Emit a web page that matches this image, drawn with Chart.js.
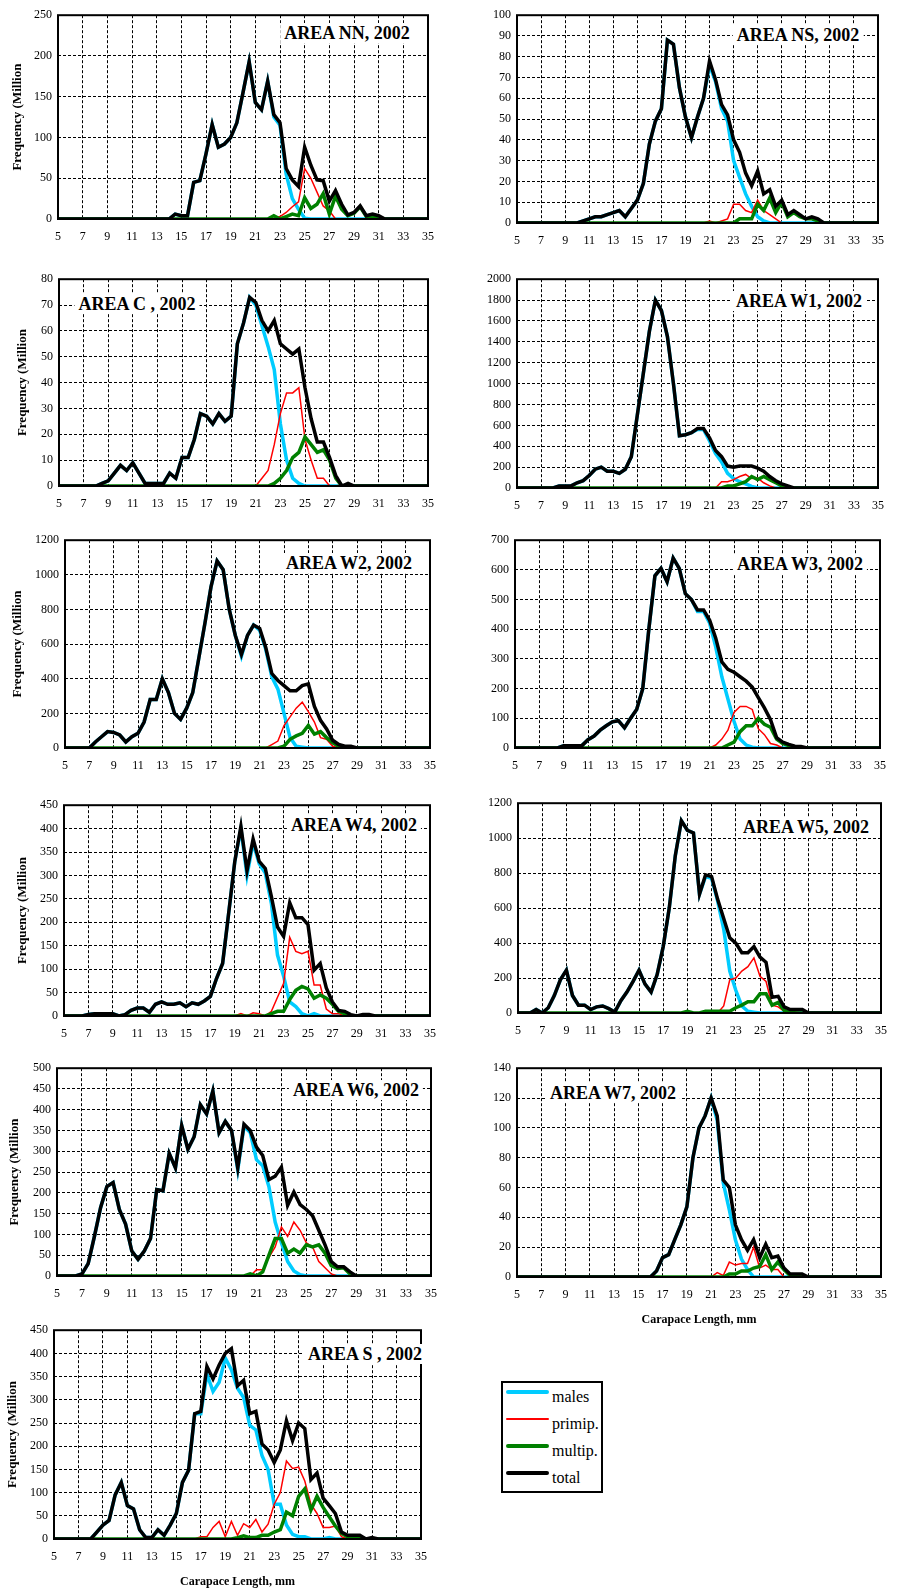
<!DOCTYPE html>
<html>
<head>
<meta charset="utf-8">
<title>Carapace length frequency by area, 2002</title>
<script src="https://cdn.jsdelivr.net/npm/chart.js@4.4.1/dist/chart.umd.min.js"></script>
<style>
html,body{margin:0;padding:0;background:#fff}
body{position:relative;width:897px;height:1592px;overflow:hidden;font-family:'Liberation Serif','Times New Roman',serif;color:#000}
canvas{position:absolute}
.area-title{position:absolute;transform:translate(-50%,-50%);background:#fff;font-weight:bold;font-size:18px;line-height:20px;padding:0 4px;white-space:nowrap}
#legend{position:absolute;left:501px;top:1381px;width:102px;height:112px;border:2px solid #000;box-sizing:border-box;background:#fff}
.lg-line{position:absolute;left:3px;width:43px}
.lg-text{position:absolute;left:49px;font-size:16px;line-height:18px;white-space:nowrap}
</style>
</head>
<body>
<script>
// ---------- DATA ----------
const lengths = [5,5.5,6,6.5,7,7.5,8,8.5,9,9.5,10,10.5,11,11.5,12,12.5,13,13.5,14,14.5,15,15.5,16,16.5,17,17.5,18,18.5,19,19.5,20,20.5,21,21.5,22,22.5,23,23.5,24,24.5,25,25.5,26,26.5,27,27.5,28,28.5,29,29.5,30,30.5,31,31.5,32,32.5,33,33.5,34,34.5,35];
const xTickLabels = [5,7,9,11,13,15,17,19,21,23,25,27,29,31,33,35];
const seriesNames = ['males','primip.','multip.','total'];
const areaTitles = ['AREA NN, 2002','AREA NS, 2002','AREA C , 2002','AREA W1, 2002','AREA W2, 2002','AREA W3, 2002','AREA W4, 2002','AREA W5, 2002','AREA W6, 2002','AREA W7, 2002','AREA S , 2002'];
const yMaxes = [250,100,80,2000,1200,700,450,1200,500,140,450];
const ySteps = [50,10,10,200,200,100,50,200,50,20,50];
const yAxisTitle = 'Frequency (Million';
const xAxisTitle = 'Carapace Length, mm';

// AREA NN
const nnMales = [0,0,0,0,0,0,0,0,0,0, 0,0,0,0,0,0,0,0,0,6, 4,4,45,47,80,116,88,92,100,118, 155,193,143,134,169,125,115,55,25,12, 1,0,0,0,0,0,0,0,0,0, 0,0,0,0,0,0,0,0,0,0,0];
const nnPrimip = [0,0,0,0,0,0,0,0,0,0, 0,0,0,0,0,0,0,0,0,0, 0,0,0,0,0,0,0,0,0,0, 0,0,0,0,0,0,3,8,15,21, 62,50,33,16,10,0,0,0,0,0, 0,2,1,0,0,0,0,0,0,0,0];
const nnMultip = [0,0,0,0,0,0,0,0,0,0, 0,0,0,0,0,0,0,0,0,0, 0,0,0,0,0,0,0,0,0,0, 0,0,0,0,0,4,0,3,6,4, 26,13,18,31,6,28,12,4,7,15, 3,3,2,0,0,0,0,0,0,0,0];
const nnTotal = [0,0,0,0,0,0,0,0,0,0, 0,0,0,0,0,0,0,0,0,6, 4,4,45,47,80,116,88,92,100,118, 155,193,143,134,169,128,118,62,48,40, 88,66,48,47,22,35,18,5,8,16, 4,6,4,0,0,0,0,0,0,0,0];

// AREA NS
const nsMales = [0,0,0,0,0,0,0,0,0,0, 0,1,2,3,3,4,5,6,3,7, 11,19,38,49,55,88,86,65,51,41, 51,60,76,68,55,49,30,22,14,8, 3,1,0,0,0,0,0,0,0,0, 0,0,0,0,0,0,0,0,0,0,0];
const nsPrimip = [0,0,0,0,0,0,0,0,0,0, 0,0,0,0,0,0,0,0,0,0, 0,0,0,0,0,0,0,0,0,0, 0,0,1,0,1,2,9,9,6,5, 11,6,4,2,0,0,0,0,0,0, 0,0,0,0,0,0,0,0,0,0,0];
const nsMultip = [0,0,0,0,0,0,0,0,0,0, 0,0,0,0,0,0,0,0,0,0, 0,0,0,0,0,0,0,0,0,0, 0,0,0,0,0,0,0,2,2,2, 9,6,12,5,10,3,5,3,2,2, 1,0,0,0,0,0,0,0,0,0,0];
const nsTotal = [0,0,0,0,0,0,0,0,0,0, 0,1,2,3,3,4,5,6,3,7, 11,19,38,49,55,88,86,65,51,41, 51,60,78,69,57,52,40,34,24,18, 25,14,16,8,11,4,6,4,2,3, 2,0,0,0,0,0,0,0,0,0,0];

// AREA C
const cMales = [0,0,0,0,0,0,0,1,2,5, 8,6,9,5,1,1,1,1,5,3, 11,11,18,28,27,24,28,25,27,55, 63,73,70,62,54,45,24,10,3,1, 0,0,0,0,0,0,0,0,0,0, 0,0,0,0,0,0,0,0,0,0,0];
const cPrimip = [0,0,0,0,0,0,0,0,0,0, 0,0,0,0,0,0,0,0,0,0, 0,0,0,0,0,0,0,0,0,0, 0,0,0,3,6,16,28,36,36,38, 18,10,3,3,0,0,0.5,0,0,0, 0,0,0,0,0,0,0,0,0,0,0];
const cMultip = [0,0,0,0,0,0,0,0,0,0, 0,0,0,0,0,0,0,0,0,0, 0,0,0,0,0,0,0,0,0,0, 0,0,0,0,0,1,3,6,11,13, 19,16,13,14,10,3,0,0,0,0, 0,0,0,0,0,0,0,0,0,0,0];
const cTotal = [0,0,0,0,0,0,0,1,2,5, 8,6,9,5,1,1,1,1,5,3, 11,11,18,28,27,24,28,25,27,55, 63,73,71,64,60,64,55,53,51,53, 38,26,17,17,11,4,0,1,0,0, 0,0,0,0,0,0,0,0,0,0,0];

// AREA W1
const w1Males = [0,0,0,0,0,0,0,20,20,20, 50,70,120,180,200,160,160,140,180,300, 700,1100,1500,1800,1700,1450,1000,500,510,530, 560,560,450,330,250,140,90,60,40,15, 0,0,0,0,0,0,0,0,0,0, 0,0,0,0,0,0,0,0,0,0,0];
const w1Primip = [0,0,0,0,0,0,0,0,0,0, 0,0,0,0,0,0,0,0,0,0, 0,0,0,0,0,0,0,0,0,0, 0,0,0,0,60,60,80,110,130,90, 95,50,20,0,0,0,0,0,0,0, 0,0,0,0,0,0,0,0,0,0,0];
const w1Multip = [0,0,0,0,0,0,0,0,0,0, 0,0,0,0,0,0,0,0,0,0, 0,0,0,0,0,0,0,0,0,0, 0,0,0,0,0,20,20,40,60,110, 80,110,80,50,20,0,0,0,0,0, 0,0,0,0,0,0,0,0,0,0,0];
const w1Total = [0,0,0,0,0,0,0,20,20,20, 50,70,120,180,200,160,160,140,180,300, 700,1100,1500,1800,1700,1450,1000,500,510,530, 570,570,480,360,300,210,200,210,210,210, 190,160,110,70,40,20,0,0,0,0, 0,0,0,0,0,0,0,0,0,0,0];

// AREA W2
const w2Males = [0,0,0,0,0,35,65,95,90,75, 35,65,85,150,280,280,400,320,200,165, 230,320,520,720,930,1080,1030,800,650,530, 650,710,680,570,410,340,200,60,10,5, 0,0,0,0,0,0,0,0,0,0, 0,0,0,0,0,0,0,0,0,0,0];
const w2Primip = [0,0,0,0,0,0,0,0,0,0, 0,0,0,0,0,0,0,0,0,0, 0,0,0,0,0,0,0,0,0,0, 0,0,0,0,20,40,130,180,230,265, 210,150,60,50,10,0,0,0,0,0, 0,0,0,0,0,0,0,0,0,0,0];
const w2Multip = [0,0,0,0,0,0,0,0,0,0, 0,0,0,0,0,0,0,0,0,0, 0,0,0,0,0,0,0,0,0,0, 0,0,0,0,0,0,10,50,70,85, 130,80,95,60,30,10,0,0,0,0, 0,0,0,0,0,0,0,0,0,0,0];
const w2Total = [0,0,0,0,0,35,65,95,90,75, 35,65,85,150,280,280,400,320,200,165, 230,320,520,720,930,1080,1030,800,650,540, 650,710,690,580,430,390,360,330,330,360, 370,240,160,110,45,20,10,10,0,0, 0,0,0,0,0,0,0,0,0,0,0];

// AREA W3
const w3Males = [0,0,0,0,0,0,0,0,8,8, 8,8,28,40,60,75,88,92,68,100, 130,200,400,580,605,560,640,605,520,500, 460,460,420,340,240,165,90,30,10,3, 0,0,0,0,0,0,0,0,0,0, 0,0,0,0,0,0,0,0,0,0,0];
const w3Primip = [0,0,0,0,0,0,0,0,0,0, 0,0,0,0,0,0,0,0,0,0, 0,0,0,0,0,0,0,0,0,0, 0,0,0,10,30,60,120,140,140,130, 65,45,15,10,0,0,0,0,0,0, 0,0,0,0,0,0,0,0,0,0,0];
const w3Multip = [0,0,0,0,0,0,0,0,0,0, 0,0,0,0,0,0,0,0,0,0, 0,0,0,0,0,0,0,0,0,0, 0,0,0,0,0,10,20,55,75,75, 100,80,70,30,15,8,0,0,0,0, 0,0,0,0,0,0,0,0,0,0,0];
const w3Total = [0,0,0,0,0,0,0,0,8,8, 8,8,28,40,60,75,88,92,68,100, 130,200,400,580,605,560,640,605,520,500, 465,465,430,370,290,265,255,240,225,205, 170,135,95,35,20,12,6,5,0,0, 0,0,0,0,0,0,0,0,0,0,0];

// AREA W4
const w4Males = [0,0,0,0,3,5,5,5,5,0, 3,12,17,17,8,25,30,25,25,28, 20,28,25,32,42,80,112,220,330,400, 300,370,325,305,240,130,85,30,20,5, 0,5,0,0,0,0,0,0,0,0, 0,0,0,0,0,0,0,0,0,0,0];
const w4Primip = [0,0,0,0,0,0,0,0,0,0, 0,0,0,0,0,0,0,0,0,0, 0,0,0,0,0,0,0,0,0,5, 0,7,5,0,10,40,70,168,138,133, 138,66,66,15,5,5,0,0,0,0, 0,0,0,0,0,0,0,0,0,0,0];
const w4Multip = [0,0,0,0,0,0,0,0,0,0, 0,0,0,0,0,0,0,0,0,0, 0,0,0,0,0,0,0,0,0,0, 0,0,0,0,5,10,10,35,55,63, 58,38,45,38,25,10,5,0,0,0, 0,0,0,0,0,0,0,0,0,0,0];
const w4Total = [0,0,0,0,3,5,5,5,5,0, 3,12,17,17,8,25,30,25,25,28, 20,28,25,32,42,80,112,220,330,405, 310,378,330,315,255,190,170,242,210,210, 195,98,112,60,30,12,10,3,0,3, 3,0,0,0,0,0,0,0,0,0,0];

// AREA W5
const w5Males = [0,0,0,20,0,30,100,190,245,100, 45,45,20,35,40,25,5,70,120,180, 245,165,120,220,380,600,900,1100,1045,1030, 680,780,770,640,480,240,130,40,10,5, 0,0,0,0,0,0,0,0,0,0, 0,0,0,0,0,0,0,0,0,0,0];
const w5Primip = [0,0,0,0,0,0,0,0,0,0, 0,0,0,0,0,0,0,0,0,0, 0,0,0,0,0,0,0,0,0,0, 0,0,0,0,40,190,200,240,265,315, 210,180,45,35,10,10,5,0,0,0, 0,0,0,0,0,0,0,0,0,0,0];
const w5Multip = [0,0,0,0,0,0,0,0,0,0, 0,0,0,0,0,0,0,0,0,0, 0,0,0,0,0,0,0,0,10,0, 0,10,10,10,10,10,30,45,65,65, 110,110,45,60,15,5,0,0,0,0, 0,0,0,0,0,0,0,0,0,0,0];
const w5Total = [0,0,0,20,0,30,100,190,245,100, 45,45,20,35,40,25,5,70,120,180, 245,165,120,220,380,600,900,1100,1045,1030, 680,790,780,650,540,430,400,345,345,380, 320,290,90,95,35,20,20,20,0,0, 0,0,0,0,0,0,0,0,0,0,0];

// AREA W6
const w6Males = [0,0,0,0,5,30,95,165,215,225, 160,125,60,40,60,90,208,205,295,260, 362,305,335,412,390,445,345,372,350,255, 360,345,280,265,215,130,80,35,12,3, 0,0,0,0,0,0,0,0,0,0, 0,0,0,0,0,0,0,0,0,0,0];
const w6Primip = [0,0,0,0,0,0,0,0,0,0, 0,0,0,0,0,0,0,0,0,0, 0,0,0,0,0,0,0,0,0,0, 0,0,15,15,45,70,118,95,130,110, 80,70,35,20,5,0,0,0,0,0, 0,0,0,0,0,0,0,0,0,0,0];
const w6Multip = [0,0,0,0,0,0,0,0,0,0, 0,0,0,0,0,0,0,0,0,0, 0,0,0,0,0,0,0,0,0,0, 0,5,0,10,50,90,90,55,65,55, 75,70,75,55,25,18,20,5,0,0, 0,0,0,0,0,0,0,0,0,0,0];
const w6Total = [0,0,0,0,5,30,95,165,215,225, 160,125,60,40,60,90,208,205,295,260, 362,305,335,412,390,445,345,372,350,260, 365,350,310,290,232,240,262,170,202,172, 160,145,110,75,35,22,22,10,0,0, 0,0,0,0,0,0,0,0,0,0,0];

// AREA W7
const w7Males = [0,0,0,0,0,0,0,0,0,0, 0,0,0,0,0,0,0,0,0,0, 0,0,0,4,13,15,25,35,47,80, 100,108,120,105,63,45,25,12,5,0, 0,0,0,0,0,0,0,0,0,0, 0,0,0,0,0,0,0,0,0,0,0];
const w7Primip = [0,0,0,0,0,0,0,0,0,0, 0,0,0,0,0,0,0,0,0,0, 0,0,0,0,0,0,0,0,0,0, 0,0,0,3,1,10,8,9,9,20, 6,8,5,5,0,0,0,0,0,0, 0,0,0,0,0,0,0,0,0,0,0];
const w7Multip = [0,0,0,0,0,0,0,0,0,0, 0,0,0,0,0,0,0,0,0,0, 0,0,0,0,0,0,0,0,0,0, 0,0,0,0,0,2,2,4,4,6, 7,15,5,10,5,1,1,0,0,0, 0,0,0,0,0,0,0,0,0,0,0];
const w7Total = [0,0,0,0,0,0,0,0,0,0, 0,0,0,0,0,0,0,0,0,0, 0,0,0,4,13,15,25,35,47,80, 100,108,120,108,65,60,35,25,18,25, 13,22,13,14,6,2,2,2,0,0, 0,0,0,0,0,0,0,0,0,0,0];

// AREA S
const sMales = [0,0,0,0,0,0,0,15,30,40, 95,122,72,65,20,3,3,20,8,30, 55,122,148,270,270,355,318,338,390,365, 325,305,245,235,180,150,75,75,30,10, 5,5,0,0,0,3,0,0,0,0, 0,0,0,0,0,0,0,0,0,0,0];
const sPrimip = [0,0,0,0,0,0,0,0,0,0, 0,0,0,0,0,0,0,0,0,0, 0,0,0,0,5,5,25,38,5,38, 8,33,25,42,15,32,75,100,168,152, 155,125,75,55,25,25,28,5,0,0, 0,0,0,0,0,0,0,0,0,0,0];
const sMultip = [0,0,0,0,0,0,0,0,0,0, 0,0,0,0,0,0,0,0,0,0, 0,0,0,0,0,0,0,0,0,0, 3,7,3,3,8,8,15,20,58,50, 92,108,62,92,68,48,28,12,5,5, 3,0,0,0,0,0,0,0,0,0,0];
const sTotal = [0,0,0,0,0,0,0,15,30,40, 95,122,72,65,20,3,3,20,8,30, 55,122,148,270,275,372,345,375,400,410, 330,342,270,275,205,192,165,192,255,212, 250,238,128,142,88,72,55,15,8,8, 8,0,3,0,0,0,0,0,0,0,0];

const areaSeries = [
  [nnMales, nnPrimip, nnMultip, nnTotal],
  [nsMales, nsPrimip, nsMultip, nsTotal],
  [cMales, cPrimip, cMultip, cTotal],
  [w1Males, w1Primip, w1Multip, w1Total],
  [w2Males, w2Primip, w2Multip, w2Total],
  [w3Males, w3Primip, w3Multip, w3Total],
  [w4Males, w4Primip, w4Multip, w4Total],
  [w5Males, w5Primip, w5Multip, w5Total],
  [w6Males, w6Primip, w6Multip, w6Total],
  [w7Males, w7Primip, w7Multip, w7Total],
  [sMales, sPrimip, sMultip, sTotal]
];

// ---------- LAYOUT & STYLE ----------
const layouts = [
  {L:58, R:435, T:12, B:219, yw:48, yTitle:true, xTitle:false, tx:347, ty:33},
  {L:517, R:885, T:12, B:223, yw:45, yTitle:false, xTitle:false, tx:798, ty:35},
  {L:59, R:435, T:276, B:486, yw:44, yTitle:true, xTitle:false, tx:137, ty:304},
  {L:517, R:885, T:276, B:488, yw:45, yTitle:false, xTitle:false, tx:799, ty:301},
  {L:65, R:437, T:537, B:748, yw:55, yTitle:true, xTitle:false, tx:349, ty:563},
  {L:515, R:887, T:537, B:748, yw:45, yTitle:false, xTitle:false, tx:800, ty:564},
  {L:64, R:437, T:802, B:1016, yw:49, yTitle:true, xTitle:false, tx:354, ty:825},
  {L:518, R:888, T:800, B:1013, yw:45, yTitle:false, xTitle:false, tx:806, ty:827},
  {L:57, R:438, T:1065, B:1276, yw:50, yTitle:true, xTitle:false, tx:356, ty:1090},
  {L:517, R:888, T:1065, B:1277, yw:45, yTitle:false, xTitle:true, tx:613, ty:1093},
  {L:54, R:428, T:1327, B:1539, yw:49, yTitle:true, xTitle:true, tx:365, ty:1354}
];
const seriesStyles = [
  {color:'#00CCFF', width:3.5, order:3},
  {color:'#FF0000', width:1.5, order:2},
  {color:'#008000', width:3.5, order:1},
  {color:'#000000', width:3.5, order:0}
];
const FONT = "'Liberation Serif', 'Times New Roman', serif";

areaSeries.forEach((arr, k) => arr.forEach((a, j) => {
  if (a.length !== lengths.length) throw new Error('length mismatch ' + areaTitles[k] + ' ' + seriesNames[j] + ' ' + a.length);
}));

const framePlugin = {
  id: 'frame',
  afterDatasetsDraw(chart) {
    const {ctx, chartArea: a} = chart;
    ctx.save();
    ctx.setLineDash([]);
    ctx.lineWidth = 2;
    ctx.strokeStyle = '#000';
    ctx.strokeRect(a.left, a.top, a.right - a.left, a.bottom - a.top);
    ctx.restore();
  }
};

const PAD_T = 10, PAD_R = 10;
areaSeries.forEach((arr, k) => {
  const lay = layouts[k];
  const hx = lay.xTitle ? 52 : 30;
  const cv = document.createElement('canvas');
  const w = (lay.R - lay.L) + lay.yw + PAD_R;
  const h = (lay.B - lay.T) + PAD_T + hx;
  cv.width = w; cv.height = h;
  cv.style.left = (lay.L - lay.yw) + 'px';
  cv.style.top = (lay.T - PAD_T) + 'px';
  cv.style.width = w + 'px'; cv.style.height = h + 'px';
  document.body.appendChild(cv);

  const datasets = arr.map((vals, j) => ({
    label: seriesNames[j],
    data: lengths.map((x, i) => ({x: x, y: vals[i]})),
    borderColor: seriesStyles[j].color,
    backgroundColor: seriesStyles[j].color,
    borderWidth: seriesStyles[j].width,
    order: seriesStyles[j].order,
    pointRadius: 0,
    tension: 0,
    fill: false
  }));

  new Chart(cv, {
    type: 'line',
    data: {datasets},
    plugins: [framePlugin],
    options: {
      responsive: false,
      animation: false,
      layout: {padding: {top: PAD_T, right: PAD_R, left: 0, bottom: 0}},
      plugins: {legend: {display: false}, tooltip: {enabled: false}},
      scales: {
        x: {
          type: 'linear', min: 5, max: 35,
          afterBuildTicks: s => { s.ticks = xTickLabels.map(v => ({value: v})); },
          afterFit: s => { s.height = hx; },
          ticks: {padding: 11, maxRotation: 0, autoSkip: false, color: '#000',
                  font: {family: FONT, size: 12}, callback: v => String(v)},
          grid: {color: '#000', lineWidth: 1, drawTicks: false},
          border: {display: false, dash: [3, 2]},
          title: {display: lay.xTitle, text: xAxisTitle, color: '#000',
                  font: {family: FONT, size: 12, weight: 'bold'}, padding: {top: 0, bottom: 2}}
        },
        y: {
          type: 'linear', min: 0, max: yMaxes[k],
          afterFit: s => { s.width = lay.yw; },
          ticks: {stepSize: ySteps[k], padding: 6, color: '#000',
                  font: {family: FONT, size: 12}, callback: v => String(v)},
          grid: {color: '#000', lineWidth: 1, drawTicks: false},
          border: {display: false, dash: [3, 2]},
          title: {display: lay.yTitle, text: yAxisTitle, color: '#000',
                  font: {family: FONT, size: 13, weight: 'bold'}, padding: {top: 0, bottom: 0}}
        }
      }
    }
  });

  const t = document.createElement('div');
  t.className = 'area-title';
  t.textContent = areaTitles[k];
  t.style.left = lay.tx + 'px';
  t.style.top = lay.ty + 'px';
  document.body.appendChild(t);
});

// ---------- LEGEND ----------
const legend = document.createElement('div');
legend.id = 'legend';
seriesNames.forEach((name, j) => {
  const ln = document.createElement('div');
  ln.className = 'lg-line';
  const lw = j === 1 ? 2 : 4;
  ln.style.top = (9 + 27 * j - lw / 2) + 'px';
  ln.style.height = lw + 'px';
  ln.style.background = seriesStyles[j].color;
  ln.style.borderRadius = '2px';
  legend.appendChild(ln);
  const tx = document.createElement('div');
  tx.className = 'lg-text';
  tx.textContent = name;
  tx.style.top = (14 + 27 * j - 9) + 'px';
  legend.appendChild(tx);
});
document.body.appendChild(legend);
</script>
</body>
</html>
